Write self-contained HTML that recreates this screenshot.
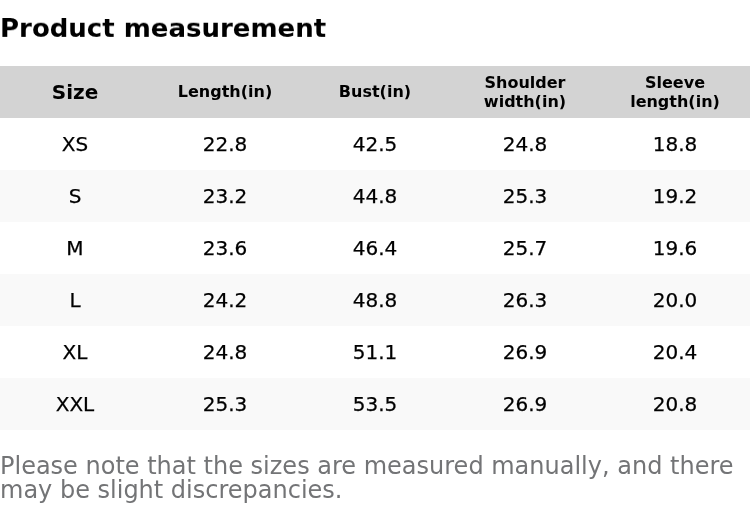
<!DOCTYPE html>
<html><head><meta charset="utf-8">
<style>
html,body{margin:0;padding:0;background:#fff;}
body{width:750px;height:526px;overflow:hidden;font-family:"DejaVu Sans","Liberation Sans",sans-serif;color:#000;position:relative;}
h1{position:absolute;left:0;top:12px;margin:0;font-size:26px;line-height:32px;font-weight:bold;white-space:nowrap;will-change:transform;transform:translateY(-0.2px) scale(1,0.94);transform-origin:0 25px;}
table{position:absolute;left:0;top:66px;width:750px;border-collapse:collapse;table-layout:fixed;}
th,td{padding:0;text-align:center;vertical-align:middle;height:52px;}
th{background:#d3d3d3;font-weight:bold;font-size:16px;line-height:19px;}
th.sz{font-size:20px;}
.u{position:relative;top:-1px;}
td{font-size:20px;-webkit-text-stroke:0.25px #000;}
tr.g td{background:#f9f9f9;}
p{position:absolute;left:0;top:454px;margin:0;font-size:24px;line-height:24px;color:#737476;width:750px;}
</style></head><body>
<h1>Product measurement</h1>
<table>
<tr><th class="sz">Size</th><th><span class="u">Length(in)</span></th><th><span class="u">Bust(in)</span></th><th>Shoulder<br>width(in)</th><th>Sleeve<br>length(in)</th></tr>
<tr><td>XS</td><td>22.8</td><td>42.5</td><td>24.8</td><td>18.8</td></tr>
<tr class="g"><td>S</td><td>23.2</td><td>44.8</td><td>25.3</td><td>19.2</td></tr>
<tr><td>M</td><td>23.6</td><td>46.4</td><td>25.7</td><td>19.6</td></tr>
<tr class="g"><td>L</td><td>24.2</td><td>48.8</td><td>26.3</td><td>20.0</td></tr>
<tr><td>XL</td><td>24.8</td><td>51.1</td><td>26.9</td><td>20.4</td></tr>
<tr class="g"><td>XXL</td><td>25.3</td><td>53.5</td><td>26.9</td><td>20.8</td></tr>
</table>
<p>Please note that the sizes are measured manually, and there<br>may be slight discrepancies.</p>
</body></html>
